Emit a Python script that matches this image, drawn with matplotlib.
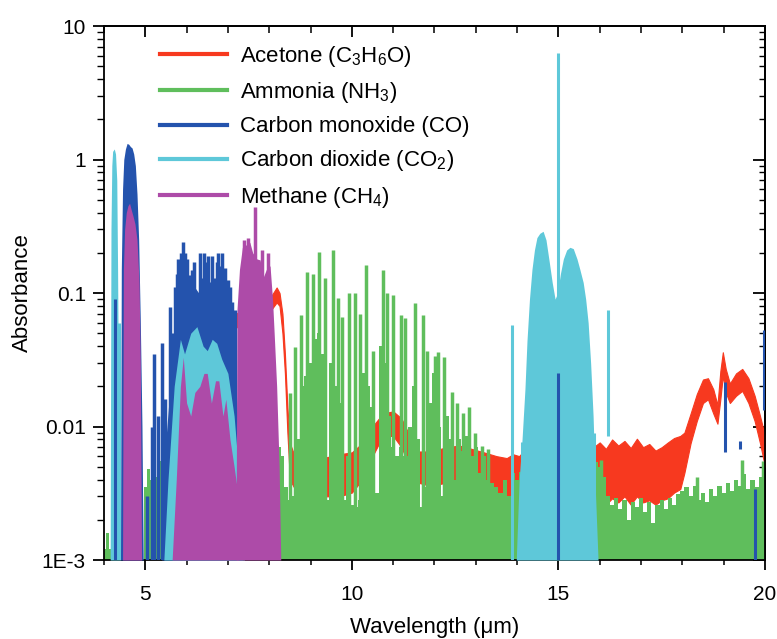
import matplotlib
matplotlib.use("Agg")
import matplotlib.pyplot as plt
from matplotlib.lines import Line2D
from matplotlib.ticker import MultipleLocator, LogLocator, NullFormatter, FixedLocator, FixedFormatter

plt.rcParams['font.family'] = ['Liberation Sans', 'DejaVu Sans']
plt.rcParams['mathtext.fontset'] = 'custom'
plt.rcParams['mathtext.rm'] = 'Liberation Sans'
plt.rcParams['mathtext.it'] = 'Liberation Sans:italic'
plt.rcParams['mathtext.default'] = 'regular'

FLOOR = 1e-3

# colours
c_acet = '#f7391f'
c_nh3 = '#5fbe5c'
c_co = '#2453ad'
c_co2 = '#5ec8d9'
c_ch4 = '#ad4ba8'

# ---------------- acetone: band between lower / upper edge
acet_wl = [7.20, 7.50, 7.80, 8.05, 8.18, 8.25, 8.32, 8.38, 8.44, 8.50, 8.60, 8.90, 9.30, 9.70,
           10.00, 10.25, 10.50, 10.75, 11.00, 11.20, 11.40, 11.60, 11.90, 12.30, 12.60, 12.90,
           13.20, 13.50, 13.75, 13.90, 14.05, 14.20, 14.35, 14.50, 14.65, 14.80, 14.95, 15.10,
           15.25, 15.40, 15.55, 15.70, 15.85, 16.00, 16.15, 16.30, 16.45, 16.60, 16.75, 16.90,
           17.05, 17.20, 17.35, 17.50, 17.65, 17.80, 17.95, 18.05, 18.20, 18.35, 18.50, 18.62,
           18.75, 18.85, 18.92, 18.98, 19.05, 19.15, 19.30, 19.45, 19.60, 19.75, 19.88, 20.00]
acet_hi = [0.070, 0.080, 0.088, 0.095, 0.110, 0.100, 0.070, 0.035, 0.014, 0.0075, 0.0062, 0.0060,
           0.0058, 0.0062, 0.0064, 0.0075, 0.0100, 0.0125, 0.0130, 0.0115, 0.0085, 0.0065, 0.0065,
           0.0070, 0.0072, 0.0068, 0.0064, 0.0060, 0.0058, 0.0062, 0.0060, 0.0068, 0.0058, 0.0066,
           0.0060, 0.0064, 0.0058, 0.0065, 0.0060, 0.0066, 0.0061, 0.0067, 0.0070, 0.0076, 0.0068,
           0.0080, 0.0072, 0.0078, 0.0069, 0.0081, 0.0070, 0.0074, 0.0066, 0.0070, 0.0076, 0.0082,
           0.0085, 0.0090, 0.0125, 0.0175, 0.0225, 0.0230, 0.0190, 0.0145, 0.0260, 0.0360, 0.0270,
           0.0210, 0.0250, 0.0270, 0.0230, 0.0170, 0.0120, 0.0085]
acet_lo = [0.055, 0.065, 0.070, 0.075, 0.085, 0.080, 0.050, 0.025, 0.009, 0.0040, 0.0035, 0.0030,
           0.0030, 0.0030, 0.0032, 0.0040, 0.0060, 0.0085, 0.0085, 0.0070, 0.0050, 0.0038, 0.0036,
           0.0038, 0.0040, 0.0036, 0.0032, 0.0030, 0.0024, 0.0026, 0.0028, 0.0032, 0.0027, 0.0031,
           0.0028, 0.0030, 0.0027, 0.0030, 0.0028, 0.0031, 0.0029, 0.0031, 0.0032, 0.0030, 0.0026,
           0.0029, 0.0027, 0.0030, 0.0026, 0.0030, 0.0027, 0.0028, 0.0026, 0.0028, 0.0029, 0.0032,
           0.0034, 0.0045, 0.0075, 0.0110, 0.0150, 0.0160, 0.0125, 0.0105, 0.0160, 0.0240, 0.0180,
           0.0150, 0.0170, 0.0185, 0.0150, 0.0110, 0.0075, 0.0050]

# ---------------- ammonia: continuum envelope + strong lines
nh3_wl = [4.00, 4.08, 4.15, 4.22, 4.95, 5.00, 5.08, 5.15, 5.22, 5.28, 5.35, 5.42, 5.50, 5.60,
          5.80, 6.00, 6.30, 6.60, 7.00, 7.40, 7.80, 8.00, 8.15, 8.25,
          8.30, 8.40, 8.50, 8.60, 8.70, 8.80, 8.90, 9.00, 9.10, 9.20, 9.30, 9.40, 9.50, 9.60,
          9.70, 9.80, 9.90, 10.00, 10.10, 10.20, 10.30, 10.40, 10.50, 10.60, 10.70, 10.80,
          10.90, 11.00, 11.10, 11.20, 11.30, 11.40, 11.50, 11.60, 11.70, 11.80, 11.90, 12.00,
          12.10, 12.20, 12.30, 12.40, 12.50, 12.60, 12.70, 12.80, 12.90, 13.00, 13.10, 13.20,
          13.30, 13.40, 13.50, 13.60, 13.70, 13.80,
          13.90, 14.00, 14.10, 14.20, 14.30, 14.40, 14.50, 14.60, 14.70, 14.80, 14.90, 15.00,
          15.10, 15.20, 15.30, 15.40, 15.50, 15.60, 15.70, 15.80, 15.90, 16.00, 16.10, 16.20,
          16.30, 16.40, 16.50, 16.60, 16.70, 16.80, 16.90, 17.00, 17.10, 17.20, 17.30, 17.40,
          17.50, 17.60, 17.70, 17.80, 17.90, 18.00, 18.10, 18.20, 18.30, 18.40, 18.50, 18.60,
          18.70, 18.80, 18.90, 19.00, 19.10, 19.20, 19.30, 19.40, 19.50, 19.60, 19.70, 19.80,
          19.90, 20.00]
nh3_env = [0.0012, 0.0016, 0.0012, 0.0010, 0.0010, 0.0035, 0.0048, 0.0040, 0.0075, 0.0042,
           0.0055, 0.0040, 0.0048, 0.0040, 0.0045, 0.0040, 0.0050, 0.0045, 0.0050, 0.0042,
           0.0020, 0.0030, 0.0060, 0.0070,
           0.0060, 0.0035, 0.0028, 0.0030, 0.0080, 0.0200, 0.0240, 0.0300, 0.0450, 0.0500,
           0.0350, 0.0028, 0.0300, 0.0200, 0.0150, 0.0028, 0.0060, 0.0026, 0.0025, 0.0028,
           0.0250, 0.0200, 0.0140, 0.0032, 0.0400, 0.0300, 0.0120, 0.0070, 0.0060, 0.0070,
           0.0060, 0.0100, 0.0200, 0.0080, 0.0025, 0.0035, 0.0150, 0.0250, 0.0100, 0.0030,
           0.0120, 0.0080, 0.0040, 0.0080, 0.0065, 0.0085, 0.0060, 0.0070, 0.0045, 0.0060,
           0.0040, 0.0038, 0.0035, 0.0032, 0.0040, 0.0030,
           0.0045, 0.0040, 0.0046, 0.0038, 0.0042, 0.0036, 0.0040, 0.0035, 0.0040, 0.0036,
           0.0042, 0.0038, 0.0045, 0.0040, 0.0046, 0.0040, 0.0048, 0.0044, 0.0050, 0.0046,
           0.0054, 0.0050, 0.0042, 0.0030, 0.0026, 0.0029, 0.0024, 0.0028, 0.0020, 0.0027,
           0.0025, 0.0029, 0.0023, 0.0027, 0.0019, 0.0026, 0.0028, 0.0024, 0.0029, 0.0026,
           0.0031, 0.0033, 0.0035, 0.0030, 0.0036, 0.0028, 0.0032, 0.0027, 0.0034, 0.0030,
           0.0036, 0.0032, 0.0038, 0.0033, 0.0040, 0.0036, 0.0044, 0.0034, 0.0040, 0.0035,
           0.0042, 0.0040]
nh3_line_wl = [8.50, 8.62, 8.77, 8.91, 9.06, 9.20, 9.35, 9.55, 9.67, 9.76, 9.93, 10.08, 10.20,
               10.34, 10.52, 10.75, 10.85, 11.00, 11.20, 11.29, 11.53, 11.72, 11.82, 12.01,
               12.09, 12.23, 12.43, 12.55, 12.69, 12.84, 12.98, 13.15, 13.30,
               15.55, 16.02, 18.35, 19.45, 19.95]
nh3_line_a = [0.0178, 0.0394, 0.068, 0.144, 0.140, 0.203, 0.130, 0.210, 0.092, 0.066, 0.100,
              0.100, 0.070, 0.162, 0.037, 0.149, 0.100, 0.097, 0.068, 0.065, 0.084, 0.068,
              0.037, 0.034, 0.036, 0.033, 0.018, 0.015, 0.0127, 0.014, 0.0089, 0.0071, 0.0068,
              0.0058, 0.0056, 0.0042, 0.0056, 0.0055]

# ---------------- carbon monoxide
co_band1_wl = [4.40, 4.42, 4.45, 4.48, 4.52, 4.56, 4.60, 4.64, 4.68, 4.72, 4.76, 4.80, 4.84,
               4.88, 4.92, 4.95]
co_band1_a = [0.001, 0.15, 0.6, 1.0, 1.2, 1.32, 1.30, 1.25, 1.22, 1.1, 0.9, 0.55, 0.25, 0.06,
              0.01, 0.001]
co_band2_wl = [5.40, 5.50, 5.60, 5.70, 5.85, 6.00, 6.20, 6.40, 6.60, 6.80, 7.00, 7.15, 7.25, 7.35]
co_band2_a = [0.001, 0.008, 0.02, 0.04, 0.07, 0.09, 0.11, 0.09, 0.11, 0.085, 0.06, 0.035, 0.01,
              0.001]
co_line_wl = [5.04, 5.16, 5.20, 5.31, 5.40, 5.48, 5.60, 5.66, 5.72, 5.76, 5.80, 5.86, 5.91, 5.96,
              6.01, 6.08, 6.13, 6.18, 6.25, 6.32, 6.37, 6.42, 6.47, 6.52, 6.57, 6.62, 6.69, 6.73,
              6.77, 6.81, 6.85, 6.93, 6.97, 7.00, 7.05, 7.10, 7.17]
co_line_a = [0.003, 0.010, 0.035, 0.012, 0.042, 0.016, 0.078, 0.05, 0.11, 0.14, 0.18, 0.20,
             0.24, 0.20, 0.18, 0.137, 0.15, 0.17, 0.078, 0.20, 0.13, 0.20, 0.17, 0.19, 0.12,
             0.19, 0.13, 0.17, 0.20, 0.16, 0.20, 0.155, 0.10, 0.125, 0.11, 0.086, 0.075]
# lines seen in front of the other gases (wavelength, bottom, top)
co_front_wl = [4.27, 15.00, 19.03, 19.40, 19.76, 19.97]
co_front_lo = [0.001, 0.001, 0.0064, 0.0068, 0.001, 0.0133]
co_front_hi = [0.09, 0.025, 0.0215, 0.0078, 0.0034, 0.053]

# ---------------- carbon dioxide
co2_band1_wl = [4.15, 4.17, 4.19, 4.21, 4.25, 4.28, 4.31, 4.33, 4.35, 4.38, 4.40]
co2_band1_a = [0.001, 0.3, 0.9, 1.15, 1.2, 1.1, 0.7, 0.15, 0.02, 0.005, 0.001]
co2_band2_wl = [5.45, 5.55, 5.70, 5.85, 5.95, 6.10, 6.25, 6.40, 6.50, 6.62, 6.73, 6.85, 7.00,
                7.15, 7.25, 7.40]
co2_band2_a = [0.001, 0.004, 0.02, 0.045, 0.035, 0.05, 0.056, 0.04, 0.037, 0.045, 0.042, 0.032,
               0.025, 0.012, 0.005, 0.001]
co2_band3_wl = [13.98, 14.05, 14.12, 14.19, 14.24, 14.30, 14.36, 14.42, 14.48, 14.55, 14.63,
                14.70, 14.78, 14.85, 14.92, 14.98, 15.05, 15.12, 15.20, 15.28, 15.36, 15.45,
                15.52, 15.60, 15.66, 15.72, 15.78, 15.84, 15.90, 15.96]
co2_band3_a = [0.001, 0.004, 0.008, 0.019, 0.044, 0.09, 0.15, 0.21, 0.26, 0.28, 0.29, 0.25,
               0.17, 0.12, 0.09, 0.10, 0.14, 0.18, 0.21, 0.22, 0.215, 0.18, 0.15, 0.12, 0.09,
               0.06, 0.03, 0.012, 0.003, 0.001]
co2_line_wl = [4.37, 13.88, 14.12, 15.00, 15.85, 16.20]
co2_line_lo = [0.001, 0.001, 0.001, 0.001, 0.001, 0.0085]
co2_line_hi = [0.06, 0.058, 0.0076, 6.3, 0.009, 0.075]

# ---------------- methane
ch4_band1_wl = [4.45, 4.47, 4.50, 4.54, 4.58, 4.62, 4.66, 4.70, 4.75, 4.80, 4.85, 4.88, 4.91]
ch4_band1_a = [0.001, 0.15, 0.3, 0.4, 0.45, 0.47, 0.42, 0.38, 0.33, 0.25, 0.12, 0.03, 0.001]
ch4_band2_wl = [5.65, 5.75, 5.85, 5.92, 6.00, 6.10, 6.20, 6.32, 6.42, 6.50, 6.60, 6.70, 6.78,
                6.88, 6.95, 7.05, 7.15, 7.25]
ch4_band2_a = [0.001, 0.004, 0.02, 0.033, 0.015, 0.012, 0.018, 0.02, 0.025, 0.025, 0.015, 0.022,
               0.022, 0.012, 0.016, 0.008, 0.005, 0.003]
ch4_band3_wl = [7.20, 7.22, 7.28, 7.35, 7.45, 7.53, 7.60, 7.70, 7.78, 7.85, 7.93, 8.02, 8.08,
                8.12, 8.18, 8.24, 8.28]
ch4_band3_a = [0.002, 0.075, 0.15, 0.22, 0.23, 0.24, 0.2, 0.18, 0.177, 0.13, 0.15, 0.16, 0.09,
               0.05, 0.02, 0.005, 0.001]
ch4_line_wl = [7.40, 7.48, 7.66, 7.82, 7.97]
ch4_line_a = [0.25, 0.26, 0.44, 0.21, 0.2]

labels = ['Acetone (C$_3$H$_6$O)', 'Ammonia (NH$_3$)', 'Carbon monoxide (CO)',
          'Carbon dioxide (CO$_2$)', 'Methane (CH$_4$)']
colors = [c_acet, c_nh3, c_co, c_co2, c_ch4]

fig = plt.figure(figsize=(7.77, 6.39), dpi=100)
ax = fig.add_axes([0.1338, 0.1236, 0.8507, 0.8357])
ax.set_yscale('log')

lw = 2.5
# acetone
ax.fill_between(acet_wl, acet_lo, acet_hi, color=c_acet, lw=0.8, zorder=1)
# ammonia
ax.fill_between(nh3_wl, FLOOR, nh3_env, step='mid', color=c_nh3, lw=0, zorder=2)
ax.vlines(nh3_line_wl, FLOOR, nh3_line_a, color=c_nh3, lw=lw, zorder=2)
# carbon monoxide
ax.fill_between(co_band1_wl, FLOOR, co_band1_a, color=c_co, lw=0, zorder=3)
ax.fill_between(co_band2_wl, FLOOR, co_band2_a, color=c_co, lw=0, zorder=3)
ax.vlines(co_line_wl, FLOOR, co_line_a, color=c_co, lw=lw, zorder=3)
# carbon dioxide
ax.fill_between(co2_band1_wl, FLOOR, co2_band1_a, color=c_co2, lw=0, zorder=4)
ax.fill_between(co2_band2_wl, FLOOR, co2_band2_a, color=c_co2, lw=0, zorder=4)
ax.fill_between(co2_band3_wl, FLOOR, co2_band3_a, color=c_co2, lw=0, zorder=4)
ax.vlines(co2_line_wl, co2_line_lo, co2_line_hi, color=c_co2, lw=2.2, zorder=4)
# methane
ax.fill_between(ch4_band1_wl, FLOOR, ch4_band1_a, color=c_ch4, lw=0, zorder=5)
ax.fill_between(ch4_band2_wl, FLOOR, ch4_band2_a, color=c_ch4, lw=0, zorder=5)
ax.fill_between(ch4_band3_wl, FLOOR, ch4_band3_a, color=c_ch4, lw=0, zorder=5)
ax.vlines(ch4_line_wl, FLOOR, ch4_line_a, color=c_ch4, lw=lw, zorder=5)
# CO lines lying on top
ax.vlines(co_front_wl, co_front_lo, co_front_hi, color=c_co, lw=2.2, zorder=6)

ax.set_xlim(4, 20)
ax.set_ylim(1e-3, 10)

# ticks
ax.xaxis.set_major_locator(FixedLocator([5, 10, 15, 20]))
ax.xaxis.set_minor_locator(MultipleLocator(1))
ax.yaxis.set_major_locator(FixedLocator([1e-3, 1e-2, 1e-1, 1, 10]))
ax.yaxis.set_major_formatter(FixedFormatter(['1E-3', '0.01', '0.1', '1', '10']))
ax.yaxis.set_minor_locator(LogLocator(base=10, subs=range(2, 10)))
ax.yaxis.set_minor_formatter(NullFormatter())
ax.tick_params(axis='x', which='major', direction='out', length=7, width=1.3, labelsize=15, pad=11)
ax.tick_params(axis='x', which='minor', direction='out', length=3.5, width=1.1)
ax.tick_params(axis='y', which='major', direction='out', length=8, width=1.3, labelsize=15, pad=5)
ax.tick_params(axis='y', which='minor', direction='out', length=5, width=1.0)

top = ax.secondary_xaxis('top')
top.xaxis.set_major_locator(FixedLocator([5, 10, 15, 20]))
top.xaxis.set_minor_locator(MultipleLocator(1))
top.tick_params(which='major', direction='in', length=8, width=1.3, labeltop=False)
top.tick_params(which='minor', direction='in', length=5, width=1.1)

right = ax.secondary_yaxis('right')
right.yaxis.set_major_locator(FixedLocator([1e-3, 1e-2, 1e-1, 1, 10]))
right.yaxis.set_minor_locator(LogLocator(base=10, subs=range(2, 10)))
right.yaxis.set_minor_formatter(NullFormatter())
right.tick_params(which='major', direction='in', length=9, width=1.3, labelright=False)
right.tick_params(which='minor', direction='in', length=4.5, width=1.0)

for sp in list(ax.spines.values()) + [top.spines['top'], right.spines['right']]:
    sp.set_linewidth(1.3)

ax.set_xlabel('Wavelength (\u03bcm)', fontsize=16, labelpad=9)
ax.set_ylabel('Absorbance', fontsize=16, labelpad=6)

handles = [Line2D([], [], color=c, lw=3) for c in colors]
ax.legend(handles, labels, loc='upper left', bbox_to_anchor=(0.085, 0.966), frameon=False,
          fontsize=16, handlelength=3.0, handletextpad=0.6, labelspacing=0.5,
          borderaxespad=0, borderpad=0)

fig.savefig('out.png', dpi=100)
